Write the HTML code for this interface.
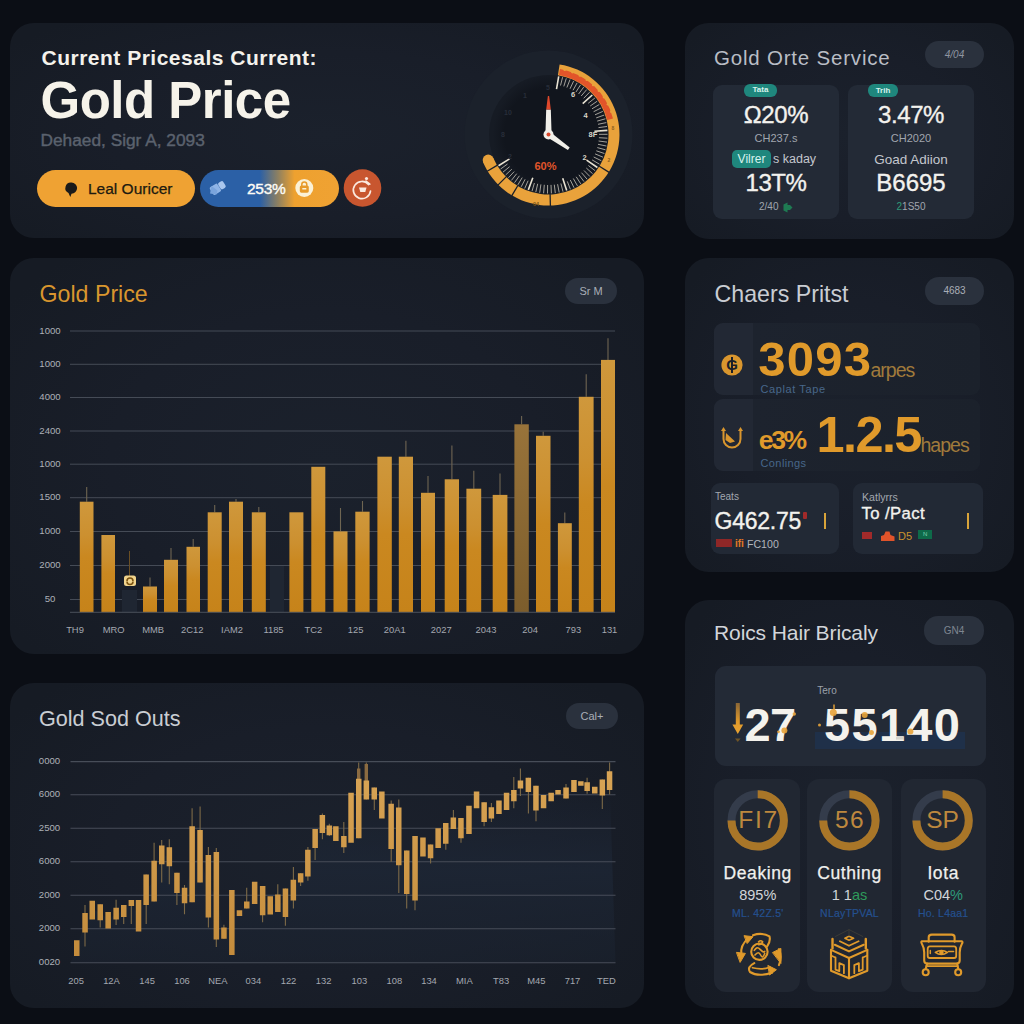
<!DOCTYPE html>
<html lang="en">
<head>
<meta charset="utf-8">
<title>Gold Price Dashboard</title>
<style>
*{box-sizing:border-box;margin:0;padding:0}
html,body{width:1024px;height:1024px;overflow:hidden}
body{background:#0b0e15;font-family:"Liberation Sans",Arial,sans-serif;color:#fff;position:relative}
.card{position:absolute;background:radial-gradient(ellipse 62% 70% at 50% 52%,#1b212c 0%,#191e29 55%,#161b24 100%);border-radius:24px}
.abs{position:absolute;white-space:nowrap;line-height:1}
.pill{position:absolute;background:#2a313d;border-radius:14px;color:#8f96a1;font-size:11px;text-align:center}
.panel{position:absolute;background:#232a36;border-radius:9px}
.yl{font-size:9.6px;color:#adb1b8}.xl{font-size:9.4px;color:#a4a8b0}
.rt{width:60px;text-align:center;font-size:24.5px;color:#bd883e}
.lb{text-align:center;font-size:17.5px;letter-spacing:0.6px;color:#f0f0ee;-webkit-text-stroke:0.25px #f0f0ee}
.pc{text-align:center;font-size:14.5px;color:#d2d5da}
.bl{text-align:center;font-size:10.5px;color:#24508f;letter-spacing:0.2px;-webkit-text-stroke:0.2px #24508f}
svg{position:absolute;left:0;top:0;overflow:visible}
</style>
</head>
<body>
<!-- CARD 1 : hero -->
<div class="card" id="c1" style="left:10px;top:23px;width:634px;height:215px"></div>
<svg id="gauge" width="1024" height="1024" viewBox="0 0 1024 1024">
<defs><radialGradient id="face" cx="0.53" cy="0.5" r="0.5"><stop offset="0" stop-color="#11151d"/><stop offset="0.8" stop-color="#11151d"/><stop offset="1" stop-color="#161b24"/></radialGradient></defs>
<circle cx="548.5" cy="134.5" r="84" fill="#1b212b"/>
<circle cx="548.5" cy="134.5" r="59.5" fill="url(#face)"/>
<path d="M559.6 64.4A71 71 0 1 1 483.1 162.2L493.3 157.9A60 60 0 1 0 557.9 75.2Z" fill="#e9a23b"/>
<circle cx="488.2" cy="160.1" r="5.5" fill="#e9a23b"/>
<path d="M560.0 69.0A66.5 66.5 0 0 1 613.0 118.4L607.2 119.9A60.5 60.5 0 0 0 559.0 74.9Z" fill="#e2552a"/>
<circle cx="564.7" cy="69.7" r="1.3" fill="#e9a23b"/>
<circle cx="572.4" cy="72.1" r="1.3" fill="#e9a23b"/>
<circle cx="579.9" cy="75.5" r="1.3" fill="#e9a23b"/>
<circle cx="586.8" cy="79.8" r="1.3" fill="#e9a23b"/>
<circle cx="593.2" cy="84.9" r="1.3" fill="#e9a23b"/>
<circle cx="598.9" cy="90.7" r="1.3" fill="#e9a23b"/>
<circle cx="603.9" cy="97.1" r="1.3" fill="#e9a23b"/>
<circle cx="608.0" cy="104.2" r="1.3" fill="#e9a23b"/>
<circle cx="611.3" cy="111.7" r="1.3" fill="#e9a23b"/>
<line x1="599.0" y1="166.0" x2="609.1" y2="172.4" stroke="#1a1f29" stroke-width="1.3"/>
<line x1="550.1" y1="194.0" x2="550.4" y2="206.0" stroke="#1a1f29" stroke-width="1.3"/>
<line x1="517.9" y1="185.5" x2="511.7" y2="195.8" stroke="#1a1f29" stroke-width="1.3"/>
<line x1="506.4" y1="176.6" x2="497.9" y2="185.1" stroke="#1a1f29" stroke-width="1.3"/>
<line x1="497.5" y1="165.1" x2="487.2" y2="171.3" stroke="#1a1f29" stroke-width="1.3"/>
<path d="M560.5 85.5L562.6 77.2M563.8 86.4L566.3 78.3M566.9 87.5L570.0 79.6M570.0 88.8L573.6 81.1M573.0 90.3L577.1 82.9M575.9 92.1L580.5 84.9M578.6 94.0L583.7 87.1M581.2 96.0L586.7 89.6M583.7 98.3L589.6 92.2M588.2 103.3L594.9 98.0M590.2 106.0L597.2 101.2M592.0 108.8L599.3 104.5M593.6 111.7L601.2 107.9M595.0 114.8L602.8 111.4M596.2 117.9L604.2 115.1M597.2 121.1L605.4 118.8M598.0 124.3L606.3 122.6M598.5 127.6L607.0 126.5M599.0 134.3L607.5 134.3M598.9 137.7L607.4 138.2M598.6 141.0L607.0 142.1M598.0 144.3L606.4 146.0M597.3 147.6L605.5 149.8M596.3 150.8L604.4 153.5M595.1 153.9L603.0 157.2M593.7 157.0L601.3 160.7M592.1 159.9L599.5 164.2M588.4 165.5L595.1 170.7M586.3 168.0L592.6 173.7M584.0 170.5L589.9 176.5M581.5 172.7L587.1 179.2M578.9 174.8L584.0 181.6M576.2 176.8L580.8 183.9M573.3 178.5L577.5 185.9M570.3 180.0L574.0 187.7M567.3 181.4L570.4 189.3M560.9 183.5L563.0 191.7M557.6 184.2L559.2 192.5M554.3 184.7L555.3 193.1M551.0 184.9L551.4 193.4M547.6 185.0L547.5 193.5M544.3 184.8L543.6 193.3M540.9 184.4L539.7 192.8M537.7 183.8L535.8 192.1M534.4 183.0L532.0 191.2M528.1 180.7L524.7 188.5M525.1 179.3L521.2 186.8M522.2 177.6L517.8 184.9M519.4 175.8L514.5 182.7M516.7 173.7L511.4 180.4M514.2 171.6L508.4 177.8M511.8 169.2L505.6 175.0M509.6 166.7L503.0 172.1M507.5 164.0L500.6 169.0" stroke="#b4b1a8" stroke-width="0.9" fill="none"/>
<path d="M556.5 89.2L558.7 76.4M582.7 103.7L592.3 95.0M594.4 131.3L607.4 130.4M586.6 160.2L597.4 167.5M562.7 178.2L566.7 190.6M532.8 177.7L528.3 189.9M509.5 158.9L498.5 165.8" stroke="#e8e2d2" stroke-width="1.6" fill="none"/>
<path d="M545.4 134.5L546.2 109.5L550.8 109.5L551.6 134.5Z" fill="#f1efe9"/>
<path d="M546.2 109.5L547.9 96.0L549.1 96.0L550.8 109.5Z" fill="#e0482b"/>
<path d="M546.8 137.0L567.9 149.9L569.7 147.5L550.2 132.0Z" fill="#f1efe9"/>
<circle cx="548.5" cy="134.5" r="5" fill="#f1efe9"/><circle cx="548.5" cy="134.5" r="2" fill="#d9472b"/>
<text x="545.5" y="170" fill="#e1552b" font-size="11" font-weight="bold" text-anchor="middle" font-family="Liberation Sans, Arial, sans-serif">60%</text>
<text x="573" y="97" fill="#d8d4c8" font-size="7.5" font-weight="bold" text-anchor="middle" font-family="Liberation Sans, Arial, sans-serif">6</text>
<text x="585.5" y="118" fill="#d8d4c8" font-size="7.5" font-weight="bold" text-anchor="middle" font-family="Liberation Sans, Arial, sans-serif">4</text>
<text x="593" y="137" fill="#d8d4c8" font-size="7.5" font-weight="bold" text-anchor="middle" font-family="Liberation Sans, Arial, sans-serif">8F</text>
<text x="584.5" y="160" fill="#d8d4c8" font-size="7.5" font-weight="bold" text-anchor="middle" font-family="Liberation Sans, Arial, sans-serif">2</text>
<text x="508" y="115" fill="#272d39" font-size="7" font-weight="bold" text-anchor="middle" font-family="Liberation Sans, Arial, sans-serif">10</text>
<text x="503" y="137" fill="#272d39" font-size="7" font-weight="bold" text-anchor="middle" font-family="Liberation Sans, Arial, sans-serif">8</text>
<text x="510" y="159" fill="#272d39" font-size="7" font-weight="bold" text-anchor="middle" font-family="Liberation Sans, Arial, sans-serif">2</text>
<text x="525" y="98" fill="#272d39" font-size="7" font-weight="bold" text-anchor="middle" font-family="Liberation Sans, Arial, sans-serif">1</text>
<text x="548" y="90" fill="#272d39" font-size="7" font-weight="bold" text-anchor="middle" font-family="Liberation Sans, Arial, sans-serif">5</text>
<text x="536" y="206" fill="#7a5418" font-size="5.5" font-weight="bold" text-anchor="middle" font-family="Liberation Sans, Arial, sans-serif">04</text>
<text x="613" y="130" fill="#8a6020" font-size="5" font-weight="bold" text-anchor="middle" font-family="Liberation Sans, Arial, sans-serif">8</text>
<text x="609" y="162" fill="#8a6020" font-size="5" font-weight="bold" text-anchor="middle" font-family="Liberation Sans, Arial, sans-serif">2</text>
</svg>
<div class="abs" id="h-sub" style="left:41.5px;top:46.5px;font-size:21px;font-weight:bold;color:#f4f2ec;letter-spacing:0.5px">Current Pricesals Current:</div>
<div class="abs" id="h-title" style="left:40.5px;top:74.5px;font-size:51px;font-weight:bold;color:#f6f3ea;letter-spacing:-0.5px">Gold Price</div>
<div class="abs" id="h-date" style="left:40.5px;top:131.5px;font-size:17.3px;color:#5b626e;-webkit-text-stroke:0.4px #5b626e">Dehaed, Sigr A, 2093</div>
<div class="abs" id="btn1" style="left:37px;top:170px;width:158px;height:37px;border-radius:19px;background:#efa233"></div>
<svg width="1024" height="1024" viewBox="0 0 1024 1024"><path d="M71.5 182.5a5.6 5.6 0 1 1 0 11.2l-1.2 3.3-1.8-3.9a5.6 5.6 0 0 1 3-10.6z" fill="#1a1a1a"/></svg>
<div class="abs" id="btn1t" style="left:88px;top:180.5px;font-size:15.5px;color:#201a10;-webkit-text-stroke:0.25px #201a10">Leal Ouricer</div>
<div class="abs" id="btn2" style="left:200px;top:170px;width:139px;height:37px;border-radius:19px;background:linear-gradient(90deg,#2b60a6 0%,#2b60a6 43%,#8d8061 56%,#eea12f 68%,#efa233 100%)"></div>
<svg width="1024" height="1024" viewBox="0 0 1024 1024">
<g transform="translate(217.5,188) rotate(-32)"><rect x="-7" y="-4.5" width="9" height="9" rx="1.5" fill="#8fb4e6"/><rect x="2.2" y="-3.8" width="6" height="7.6" rx="2" fill="#a9c6ee"/></g>
<path d="M211.5 186l6 4.5-1 4-6.5-1z" fill="#7aa4dc"/>
<circle cx="304.3" cy="188" r="9" fill="#fbf1d6"/>
<rect x="299.8" y="185.5" width="9" height="7.2" rx="1.6" fill="#e79a2a"/><path d="M301.8 186v-1.6a2.5 2.5 0 0 1 5 0V186" fill="none" stroke="#e79a2a" stroke-width="1.5"/><rect x="302.3" y="188" width="4" height="1.5" fill="#fbf1d6"/>
<circle cx="362.5" cy="188" r="18.8" fill="#c8562f"/>
<path d="M368.5 184.5a8.6 8.6 0 1 0 2 6.5" fill="none" stroke="#fbe9df" stroke-width="1.7" stroke-linecap="round"/>
<path d="M359 187.5h7.5l-1.2 4.5h-5z" fill="#fbe9df"/><circle cx="366.5" cy="178.5" r="1.6" fill="#fbe9df"/><path d="M366 181l3.8 3.2" stroke="#fbe9df" stroke-width="1.6" stroke-linecap="round"/>
</svg>
<div class="abs" id="btn2t" style="left:247px;top:180.5px;font-size:15.5px;color:#fdfbf5;letter-spacing:-0.3px;-webkit-text-stroke:0.4px #fdfbf5">253%</div>
<!-- CARD 2 : gold orte service -->
<div class="card" id="c2" style="left:685px;top:23px;width:329px;height:216px"></div>
<div class="abs" id="c2-title" style="left:714px;top:47.5px;font-size:20.5px;color:#b9bdc5;letter-spacing:0.8px">Gold Orte Service</div>
<div class="pill" style="left:925px;top:41px;width:59px;height:27px;line-height:27px;font-size:10px;font-style:italic">4/04</div>
<div class="panel" style="left:713px;top:85px;width:126px;height:134px"></div>
<div class="panel" style="left:848px;top:85px;width:126px;height:134px"></div>
<div class="abs" style="left:744px;top:84px;width:33px;height:12.5px;border-radius:6px;background:#1f877d;color:#d8f3ee;font-size:8px;line-height:12.5px;text-align:center;font-weight:bold">Tata</div>
<div class="abs" id="c2-v1" style="-webkit-text-stroke:0.35px #f3f2ee;letter-spacing:-0.4px;left:713px;width:126px;text-align:center;top:103px;font-size:24px;color:#f3f2ee">Ω20%</div>
<div class="abs" id="c2-s1" style="left:713px;width:126px;text-align:center;top:133px;font-size:11px;color:#a1a6ae">CH237.s</div>
<div class="abs" style="left:732px;top:149.5px;width:39px;height:18.5px;border-radius:5px;background:#1f877d;color:#d8f3ee;font-size:12px;line-height:18.5px;text-align:center">Vilrer</div>
<div class="abs" id="c2-k" style="left:773px;top:153px;font-size:12.5px;color:#c3c7ce">s kaday</div>
<div class="abs" id="c2-v2" style="-webkit-text-stroke:0.35px #f3f2ee;letter-spacing:-0.4px;left:713px;width:126px;text-align:center;top:171px;font-size:24px;color:#f3f2ee">13T%</div>
<div class="abs" id="c2-s2" style="left:759px;top:202px;font-size:10px;color:#a1a6ae">2/40</div>
<svg width="1024" height="1024" viewBox="0 0 1024 1024"><path d="M783.5 204.5l4-2v2.5h2.5l2.5 2.5-2.5 2.5h-2.5v2.5l-4-2z" fill="#1e7a52"/></svg>
<div class="abs" style="left:868px;top:83.5px;width:30px;height:13px;border-radius:6px;background:#1f877d;color:#d8f3ee;font-size:8px;line-height:13px;text-align:center;font-weight:bold">Trih</div>
<div class="abs" id="c2-v3" style="-webkit-text-stroke:0.35px #f3f2ee;letter-spacing:-0.4px;left:848px;width:126px;text-align:center;top:103px;font-size:24px;color:#f3f2ee">3.47%</div>
<div class="abs" id="c2-s3" style="left:848px;width:126px;text-align:center;top:133px;font-size:11px;color:#a1a6ae">CH2020</div>
<div class="abs" id="c2-g" style="left:848px;width:126px;text-align:center;top:153px;font-size:13.5px;color:#c3c7ce">Goad Adiion</div>
<div class="abs" id="c2-v4" style="-webkit-text-stroke:0.35px #f3f2ee;left:848px;width:126px;text-align:center;top:171px;font-size:24px;color:#f3f2ee">B6695</div>
<div class="abs" id="c2-s4" style="left:848px;width:126px;text-align:center;top:202px;font-size:10px;color:#a1a6ae"><span style="color:#2f9a78">2</span>1S50</div>
<!-- CARD 3 : bar chart -->
<div class="card" id="c3" style="left:10px;top:258px;width:634px;height:396px"></div>
<div class="abs" id="c3-title" style="left:39.5px;top:282.5px;font-size:23.2px;color:#d9962e">Gold Price</div>
<div class="pill" style="left:565px;top:278px;width:52px;height:26px;line-height:26px;font-size:11px;color:#a9aeb7">Sr M</div>
<svg id="barchart" width="1024" height="1024" viewBox="0 0 1024 1024">
<defs><linearGradient id="bg1" x1="0" y1="0" x2="0" y2="1"><stop offset="0" stop-color="#cf983c"/><stop offset="0.3" stop-color="#cc9030"/><stop offset="0.5" stop-color="#ca8820"/><stop offset="1" stop-color="#c6831a"/></linearGradient>
<linearGradient id="bg2" x1="0" y1="0" x2="0" y2="1"><stop offset="0" stop-color="#98733a"/><stop offset="1" stop-color="#7c5d2c"/></linearGradient></defs>
<line x1="70" y1="331" x2="615" y2="331" stroke="#454b56" stroke-width="1"/>
<line x1="70" y1="364.3" x2="615" y2="364.3" stroke="#454b56" stroke-width="1"/>
<line x1="70" y1="397.5" x2="615" y2="397.5" stroke="#454b56" stroke-width="1"/>
<line x1="70" y1="431" x2="615" y2="431" stroke="#454b56" stroke-width="1"/>
<line x1="70" y1="464.2" x2="615" y2="464.2" stroke="#454b56" stroke-width="1"/>
<line x1="70" y1="497.7" x2="615" y2="497.7" stroke="#454b56" stroke-width="1"/>
<line x1="70" y1="531.5" x2="615" y2="531.5" stroke="#454b56" stroke-width="1"/>
<line x1="70" y1="565.5" x2="615" y2="565.5" stroke="#454b56" stroke-width="1"/>
<line x1="70" y1="599.5" x2="615" y2="599.5" stroke="#454b56" stroke-width="1"/>
<rect x="122" y="590" width="15" height="22" fill="#1f2632"/>
<rect x="270" y="566" width="14" height="46" fill="#1f2632"/>
<line x1="86.7" y1="487" x2="86.7" y2="501.7" stroke="#6f6552" stroke-width="1.1"/>
<rect x="79.8" y="501.7" width="13.7" height="110.6" fill="url(#bg1)"/>
<rect x="101.4" y="535" width="13.6" height="77.3" fill="url(#bg1)"/>
<line x1="150.0" y1="577.6" x2="150.0" y2="586.5" stroke="#6f6552" stroke-width="1.1"/>
<rect x="143" y="586.5" width="14.0" height="25.8" fill="url(#bg1)"/>
<line x1="171.0" y1="548" x2="171.0" y2="559.8" stroke="#6f6552" stroke-width="1.1"/>
<rect x="164" y="559.8" width="14.0" height="52.5" fill="url(#bg1)"/>
<line x1="193.2" y1="539" x2="193.2" y2="546.8" stroke="#6f6552" stroke-width="1.1"/>
<rect x="186.5" y="546.8" width="13.5" height="65.5" fill="url(#bg1)"/>
<line x1="214.7" y1="505" x2="214.7" y2="512.3" stroke="#6f6552" stroke-width="1.1"/>
<rect x="207.7" y="512.3" width="14.0" height="100.0" fill="url(#bg1)"/>
<line x1="236.0" y1="499" x2="236.0" y2="501.7" stroke="#6f6552" stroke-width="1.1"/>
<rect x="229" y="501.7" width="14.0" height="110.6" fill="url(#bg1)"/>
<line x1="258.8" y1="507" x2="258.8" y2="512.3" stroke="#6f6552" stroke-width="1.1"/>
<rect x="251.8" y="512.3" width="14.0" height="100.0" fill="url(#bg1)"/>
<rect x="289.4" y="512.3" width="14.0" height="100.0" fill="url(#bg1)"/>
<rect x="311.3" y="466.8" width="14.0" height="145.5" fill="url(#bg1)"/>
<line x1="340.5" y1="508" x2="340.5" y2="531.4" stroke="#6f6552" stroke-width="1.1"/>
<rect x="333.5" y="531.4" width="14.0" height="80.9" fill="url(#bg1)"/>
<line x1="362.5" y1="501" x2="362.5" y2="511.7" stroke="#6f6552" stroke-width="1.1"/>
<rect x="355.3" y="511.7" width="14.3" height="100.6" fill="url(#bg1)"/>
<rect x="377.4" y="456.7" width="14.4" height="155.6" fill="url(#bg1)"/>
<line x1="405.9" y1="440.7" x2="405.9" y2="456.7" stroke="#6f6552" stroke-width="1.1"/>
<rect x="398.8" y="456.7" width="14.2" height="155.6" fill="url(#bg1)"/>
<line x1="428.0" y1="476" x2="428.0" y2="492.8" stroke="#6f6552" stroke-width="1.1"/>
<rect x="421" y="492.8" width="14.0" height="119.5" fill="url(#bg1)"/>
<line x1="451.9" y1="445.6" x2="451.9" y2="479.3" stroke="#6f6552" stroke-width="1.1"/>
<rect x="444.7" y="479.3" width="14.3" height="133.0" fill="url(#bg1)"/>
<line x1="473.8" y1="470.7" x2="473.8" y2="488.7" stroke="#6f6552" stroke-width="1.1"/>
<rect x="466.4" y="488.7" width="14.8" height="123.6" fill="url(#bg1)"/>
<line x1="500.0" y1="473.5" x2="500.0" y2="494.9" stroke="#6f6552" stroke-width="1.1"/>
<rect x="492.7" y="494.9" width="14.7" height="117.4" fill="url(#bg1)"/>
<line x1="521.6" y1="416" x2="521.6" y2="424.3" stroke="#6f6552" stroke-width="1.1"/>
<rect x="514.4" y="424.3" width="14.4" height="188.0" fill="url(#bg2)"/>
<line x1="543.2" y1="431.7" x2="543.2" y2="435.8" stroke="#6f6552" stroke-width="1.1"/>
<rect x="536" y="435.8" width="14.5" height="176.5" fill="url(#bg1)"/>
<line x1="564.8" y1="512.5" x2="564.8" y2="523.2" stroke="#6f6552" stroke-width="1.1"/>
<rect x="557.9" y="523.2" width="13.9" height="89.1" fill="url(#bg1)"/>
<line x1="586.2" y1="374.3" x2="586.2" y2="396.8" stroke="#6f6552" stroke-width="1.1"/>
<rect x="578.8" y="396.8" width="14.8" height="215.5" fill="url(#bg1)"/>
<line x1="608.0" y1="338.2" x2="608.0" y2="359.9" stroke="#6f6552" stroke-width="1.1"/>
<rect x="601" y="359.9" width="14.0" height="252.4" fill="url(#bg1)"/>
<line x1="70" y1="612.3" x2="615" y2="612.3" stroke="#4a505b" stroke-width="1"/>
<line x1="129.5" y1="551" x2="129.5" y2="576" stroke="#6a4f24" stroke-width="1"/>
<rect x="124" y="575.5" width="12" height="10.5" rx="2.5" fill="#f0d38c"/><path d="M127 581a3 3 0 0 1 6 0M133 581.5a3 3 0 0 1-6 0" stroke="#7a5210" stroke-width="1.6" fill="none"/>
</svg>
<div class="abs yl" style="left:39px;top:325.5px;width:22px;text-align:center">1000</div>
<div class="abs yl" style="left:39px;top:358.8px;width:22px;text-align:center">1000</div>
<div class="abs yl" style="left:39px;top:392.0px;width:22px;text-align:center">4000</div>
<div class="abs yl" style="left:39px;top:425.5px;width:22px;text-align:center">2400</div>
<div class="abs yl" style="left:39px;top:458.7px;width:22px;text-align:center">1000</div>
<div class="abs yl" style="left:39px;top:492.2px;width:22px;text-align:center">1500</div>
<div class="abs yl" style="left:39px;top:526.0px;width:22px;text-align:center">1000</div>
<div class="abs yl" style="left:39px;top:560.0px;width:22px;text-align:center">2000</div>
<div class="abs yl" style="left:39px;top:594.0px;width:22px;text-align:center">50</div>
<div class="abs xl" style="left:55px;top:625px;width:40px;text-align:center">TH9</div>
<div class="abs xl" style="left:93.7px;top:625px;width:40px;text-align:center">MRO</div>
<div class="abs xl" style="left:133.2px;top:625px;width:40px;text-align:center">MMB</div>
<div class="abs xl" style="left:172.3px;top:625px;width:40px;text-align:center">2C12</div>
<div class="abs xl" style="left:212px;top:625px;width:40px;text-align:center">IAM2</div>
<div class="abs xl" style="left:253.5px;top:625px;width:40px;text-align:center">1185</div>
<div class="abs xl" style="left:293.4px;top:625px;width:40px;text-align:center">TC2</div>
<div class="abs xl" style="left:335.7px;top:625px;width:40px;text-align:center">125</div>
<div class="abs xl" style="left:374.8px;top:625px;width:40px;text-align:center">20A1</div>
<div class="abs xl" style="left:421.2px;top:625px;width:40px;text-align:center">2027</div>
<div class="abs xl" style="left:466px;top:625px;width:40px;text-align:center">2043</div>
<div class="abs xl" style="left:510.20000000000005px;top:625px;width:40px;text-align:center">204</div>
<div class="abs xl" style="left:553.3px;top:625px;width:40px;text-align:center">793</div>
<div class="abs xl" style="left:589.5px;top:625px;width:40px;text-align:center">131</div>
<!-- CARD 4 : chaers pritst -->
<div class="card" id="c4" style="left:685px;top:258px;width:329px;height:314px"></div>
<div class="abs" id="c4-title" style="left:714.5px;top:282.5px;font-size:23.2px;color:#c9cdd3">Chaers Pritst</div>
<div class="pill" style="left:925px;top:277px;width:59px;height:28px;line-height:28px;font-size:10px;color:#a9aeb7">4683</div>
<div class="panel" style="left:714px;top:323px;width:266px;height:72px;background:linear-gradient(90deg,#222834 0,#222834 39px,#1d232e 39px,#1b212b 100%)"></div>
<div class="panel" style="left:714px;top:399px;width:266px;height:72px;background:linear-gradient(90deg,#222834 0,#222834 39px,#1d232e 39px,#1b212b 100%)"></div>
<svg width="1024" height="1024" viewBox="0 0 1024 1024">
<circle cx="732" cy="365" r="10.6" fill="#d9962e"/><text x="732" y="370.3" text-anchor="middle" font-size="15" font-weight="bold" fill="#1a1f29" font-family="Liberation Sans, Arial, sans-serif">G</text><rect x="731" y="357" width="2" height="16" fill="#1a1f29"/>
<path d="M723.5 430v9a8.5 8.5 0 0 0 17 0v-9" fill="none" stroke="#d9962e" stroke-width="2"/>
<path d="M721 431l2.5-4 2.5 4zM738 431l2.500-4 2.500 4z" fill="#d9962e"/>
<path d="M726 433l9 8.500-5 1.500-4.500-3z" fill="#d9962e"/>
</svg>
<div class="abs" id="c4-n1" style="left:758.3px;top:335.3px;font-size:49px;font-weight:bold;color:#e09a2b;letter-spacing:1.2px">3093</div>
<div class="abs" id="c4-u1" style="left:870.5px;top:360.5px;font-size:19.5px;color:#a07a3b;letter-spacing:-1px">arpes</div>
<div class="abs" id="c4-l1" style="left:760.5px;top:383.5px;font-size:11px;color:#48678a;letter-spacing:0.6px">Caplat Tape</div>
<div class="abs" id="c4-n2" style="left:758.8px;top:427.3px;font-size:26.5px;font-weight:bold;color:#e09a2b;letter-spacing:-2.4px">e3%</div>
<div class="abs" id="c4-n3" style="left:816.5px;top:410px;font-size:50.5px;font-weight:bold;color:#e09a2b;letter-spacing:-1.6px">1.2.5</div>
<div class="abs" id="c4-u2" style="left:920.5px;top:436px;font-size:19.5px;color:#a07a3b;letter-spacing:-1px">hapes</div>
<div class="abs" id="c4-l2" style="left:760.5px;top:458px;font-size:11px;color:#48678a;letter-spacing:0.4px">Conlings</div>
<div class="panel" style="left:711px;top:483px;width:128px;height:71px;background:#222935"></div>
<div class="panel" style="left:852.5px;top:483px;width:130.500px;height:71px;background:#222935"></div>
<div class="abs" style="left:715px;top:492px;font-size:10px;color:#a3a8b0">Teats</div>
<div class="abs" id="c4-v1" style="left:714.500px;top:510.2px;font-size:23px;color:#f3f2ee;letter-spacing:-0.250px;-webkit-text-stroke:0.35px #f3f2ee">G462.75</div>
<div class="abs" style="left:802.5px;top:511.5px;width:4px;height:7px;border-radius:1px;background:#a12a2a"></div>
<div class="abs" style="left:824px;top:512.500px;width:2px;height:16.500px;background:#d9a43a"></div>
<div class="abs" style="left:716px;top:539px;width:16px;height:8px;background:#8f2727"></div>
<div class="abs" style="left:735px;top:539px;font-size:10px;font-weight:bold;color:#e07a25">ifi</div>
<div class="abs" id="c4-fc" style="left:747px;top:539px;font-size:10.6px;color:#b1b6bd">FC100</div>
<div class="abs" style="left:862px;top:492px;font-size:10.6px;color:#a3a8b0">Katlyrrs</div>
<div class="abs" id="c4-v2" style="left:861.500px;top:505.800px;font-size:16.700px;color:#f3f2ee;letter-spacing:0.4px;-webkit-text-stroke:0.350px #f3f2ee">To /Pact</div>
<div class="abs" style="left:967.200px;top:512.500px;width:2px;height:16.500px;background:#d9a43a"></div>
<div class="abs" style="left:862px;top:532px;width:10px;height:6.500px;background:#a12a2a"></div>
<svg width="1024" height="1024" viewBox="0 0 1024 1024"><path d="M881 541v-5l3-1 1.500-3.500h4l1 3.500 4 1.500v4.500z" fill="#e0532a"/></svg>
<div class="abs" style="left:898px;top:530.500px;font-size:11px;color:#c9922e">D5</div>
<div class="abs" style="left:918px;top:530px;width:14px;height:8.500px;background:#0e6a49"></div>
<div class="abs" style="left:923px;top:531px;font-size:6px;color:#7fd0b0">N</div>
<!-- CARD 5 : candles -->
<div class="card" id="c5" style="left:10px;top:683px;width:634px;height:325px"></div>
<div class="abs" id="c5-title" style="left:39px;top:708px;font-size:21.6px;color:#c9cdd3">Gold Sod Outs</div>
<div class="pill" style="left:566px;top:703px;width:52px;height:26px;line-height:26px;font-size:11px;color:#a9aeb7">Cal+</div>
<svg id="candles" width="1024" height="1024" viewBox="0 0 1024 1024">
<defs><linearGradient id="cg" x1="0" y1="0" x2="0" y2="1"><stop offset="0" stop-color="#d8a455"/><stop offset="1" stop-color="#c48c3c"/></linearGradient>
<linearGradient id="ca" x1="0" y1="0" x2="0" y2="1"><stop offset="0" stop-color="#1d2635" stop-opacity="0"/><stop offset="0.5" stop-color="#1d2635" stop-opacity="0.8"/><stop offset="1" stop-color="#1b2330" stop-opacity="0.5"/></linearGradient></defs>
<polygon points="70.5,962.7 76.7,948.2 85.0,922.8 92.3,910.2 100.2,912.2 108.2,920.2 116.1,913.6 123.7,911.0 131.3,903.1 138.6,915.9 146.2,889.8 154.1,881.1 161.7,854.9 169.3,856.8 176.9,882.9 184.5,895.5 192.1,864.2 200.1,856.2 208.4,886.1 216.3,895.8 223.9,933.1 231.9,922.6 239.5,913.1 246.7,905.0 254.7,892.9 262.6,900.6 270.2,905.5 277.8,903.2 285.4,902.7 293.4,890.1 300.6,877.8 307.9,863.2 315.1,838.5 322.4,824.1 329.3,830.3 335.9,833.6 343.8,841.6 351.1,817.7 358.7,808.6 366.3,790.1 374.3,793.5 381.9,805.1 391.2,826.4 398.8,836.4 406.7,872.1 415.0,868.2 423.0,847.1 430.6,851.4 438.2,838.1 445.8,833.4 453.4,823.2 461.0,828.1 468.9,820.0 476.5,799.9 484.1,812.2 491.4,812.9 499.0,807.4 506.6,801.3 513.8,795.6 520.4,784.5 528.4,784.9 536.0,798.2 543.6,801.7 551.2,797.0 558.1,792.1 566.0,793.0 574.0,785.9 580.9,783.5 587.1,786.6 594.7,790.1 602.3,787.5 609.6,780.6 615.5,962.7" fill="url(#ca)"/>
<line x1="70.500" y1="761.6" x2="615.500" y2="761.6" stroke="#474d58" stroke-width="1.1"/>
<line x1="70.500" y1="794.7" x2="615.500" y2="794.7" stroke="#474d58" stroke-width="1.1"/>
<line x1="70.500" y1="828.3" x2="615.500" y2="828.3" stroke="#474d58" stroke-width="1.1"/>
<line x1="70.500" y1="861.8" x2="615.500" y2="861.8" stroke="#474d58" stroke-width="1.1"/>
<line x1="70.500" y1="895.3" x2="615.500" y2="895.3" stroke="#474d58" stroke-width="1.1"/>
<line x1="70.500" y1="928.8" x2="615.500" y2="928.8" stroke="#474d58" stroke-width="1.1"/>
<line x1="70.500" y1="962.7" x2="615.500" y2="962.7" stroke="#474d58" stroke-width="1.1"/>
<path d="M85.0 905.0V946.4M100.2 904.3V927.4M116.1 899.8V925.0M123.7 905.0V924.0M131.3 900.1V924.0M146.2 874.6V924.0M154.1 842.8V901.5M161.7 840.0V882.5M169.3 839.3V884.2M176.9 872.8V905.0M184.5 884.9V914.3M192.1 808.2V902.2M200.1 806.5V882.5M208.4 846.9V927.4M216.3 848.0V947.1M223.9 924.7V938.8M246.7 887.7V908.4M262.6 886.0V922.2M277.8 884.2V911.9M285.4 888.4V925.7M293.4 867.0V908.4M300.6 873.2V886.0M307.9 846.9V880.8M315.1 828.9V860.0M322.4 813.4V839.3M329.3 823.8V835.9M343.8 822.0V853.1M358.7 762.6V838.3M366.3 762.6V799.6M374.3 787.5V809.9M391.2 800.6V861.8M398.8 799.6V892.9M406.7 850.4V908.4M415.0 835.9V910.2M430.6 844.5V863.5M445.8 823.1V849.7M453.4 809.9V828.9M461.0 817.9V842.8M484.1 802.3V826.2M491.4 803.0V822.0M513.8 777.1V808.2M520.4 768.5V796.1M528.4 777.8V813.4M536.0 785.8V821.3M566.0 784.0V798.5M587.1 777.8V793.7M602.3 779.5V808.9M609.6 762.6V794.4" stroke="#7d6a48" stroke-width="1.1" fill="none"/>
<path d="M358.7 768.4V779M366.3 764V781" stroke="#8b6b41" stroke-width="3.4" fill="none"/>
<path d="M74.0 940.2h5.5V956.1h-5.5ZM82.3 912.9h5.5V932.6h-5.5ZM89.5 900.8h5.5V919.5h-5.5ZM97.5 904.3h5.5V920.2h-5.5ZM105.4 911.9h5.5V928.5h-5.5ZM113.4 907.7h5.5V919.5h-5.5ZM121.0 905.0h5.5V917.1h-5.5ZM128.6 900.1h5.5V906.0h-5.5ZM135.8 900.1h5.5V931.6h-5.5ZM143.4 874.6h5.5V905.0h-5.5ZM151.4 860.7h5.5V901.5h-5.5ZM159.0 845.5h5.5V864.2h-5.5ZM166.6 847.3h5.5V866.3h-5.5ZM174.2 872.8h5.5V892.9h-5.5ZM181.8 887.7h5.5V903.2h-5.5ZM189.4 826.2h5.5V902.2h-5.5ZM197.3 830.0h5.5V882.5h-5.5ZM205.6 854.9h5.5V917.4h-5.5ZM213.6 852.1h5.5V939.5h-5.5ZM221.2 927.4h5.5V938.8h-5.5ZM229.1 890.1h5.5V955.1h-5.5ZM236.7 910.2h5.5V916.0h-5.5ZM244.0 901.5h5.5V908.4h-5.5ZM251.9 881.8h5.5V903.9h-5.5ZM259.9 886.0h5.5V915.3h-5.5ZM267.5 896.3h5.5V914.6h-5.5ZM275.1 894.6h5.5V911.9h-5.5ZM282.7 888.4h5.5V917.1h-5.5ZM290.6 879.7h5.5V900.5h-5.5ZM297.9 873.2h5.5V882.5h-5.5ZM305.1 849.7h5.5V876.6h-5.5ZM312.4 828.9h5.5V848.0h-5.5ZM319.6 815.1h5.5V833.1h-5.5ZM326.6 825.5h5.5V835.2h-5.5ZM333.1 826.2h5.5V841.0h-5.5ZM341.1 835.9h5.5V847.3h-5.5ZM348.3 792.7h5.5V842.8h-5.5ZM356.0 778.8h5.5V838.3h-5.5ZM363.6 780.6h5.5V799.6h-5.5ZM371.5 787.5h5.5V799.6h-5.5ZM379.1 791.6h5.5V818.6h-5.5ZM388.4 803.7h5.5V849.0h-5.5ZM396.0 807.5h5.5V865.2h-5.5ZM404.0 850.4h5.5V893.9h-5.5ZM412.3 835.9h5.5V900.5h-5.5ZM420.2 837.6h5.5V856.6h-5.5ZM427.8 844.5h5.5V858.3h-5.5ZM435.4 828.3h5.5V848.0h-5.5ZM443.0 823.1h5.5V843.8h-5.5ZM450.6 817.5h5.5V828.9h-5.5ZM458.2 817.9h5.5V838.3h-5.5ZM466.2 805.8h5.5V834.1h-5.5ZM473.8 791.6h5.5V808.2h-5.5ZM481.4 802.3h5.5V822.0h-5.5ZM488.6 807.2h5.5V818.6h-5.5ZM496.2 800.6h5.5V814.1h-5.5ZM503.8 792.7h5.5V809.9h-5.5ZM511.1 789.9h5.5V801.3h-5.5ZM517.7 780.6h5.5V788.5h-5.5ZM525.6 777.8h5.5V792.0h-5.5ZM533.2 785.8h5.5V810.6h-5.5ZM540.8 795.1h5.5V808.2h-5.5ZM548.4 792.7h5.5V801.3h-5.5ZM555.3 789.9h5.5V794.4h-5.5ZM563.3 787.5h5.5V798.5h-5.5ZM571.2 779.9h5.5V792.0h-5.5ZM578.1 781.3h5.5V785.8h-5.5ZM584.4 782.3h5.5V790.9h-5.5ZM592.0 786.8h5.5V793.4h-5.5ZM599.6 779.5h5.5V795.4h-5.5ZM606.8 771.2h5.5V789.9h-5.5Z" fill="url(#cg)"/>
</svg>
<div class="abs yl" style="left:38px;top:756.1px;width:23px;text-align:center">0000</div>
<div class="abs yl" style="left:38px;top:789.2px;width:23px;text-align:center">6000</div>
<div class="abs yl" style="left:38px;top:822.8px;width:23px;text-align:center">2500</div>
<div class="abs yl" style="left:38px;top:856.3px;width:23px;text-align:center">6000</div>
<div class="abs yl" style="left:38px;top:889.8px;width:23px;text-align:center">2000</div>
<div class="abs yl" style="left:38px;top:923.3px;width:23px;text-align:center">2000</div>
<div class="abs yl" style="left:38px;top:957.2px;width:23px;text-align:center">0020</div>
<div class="abs xl" style="left:56.2px;top:976px;width:40px;text-align:center">205</div>
<div class="abs xl" style="left:91.5px;top:976px;width:40px;text-align:center">12A</div>
<div class="abs xl" style="left:127.2px;top:976px;width:40px;text-align:center">145</div>
<div class="abs xl" style="left:162.0px;top:976px;width:40px;text-align:center">106</div>
<div class="abs xl" style="left:197.8px;top:976px;width:40px;text-align:center">NEA</div>
<div class="abs xl" style="left:233.3px;top:976px;width:40px;text-align:center">034</div>
<div class="abs xl" style="left:268.5px;top:976px;width:40px;text-align:center">122</div>
<div class="abs xl" style="left:303.6px;top:976px;width:40px;text-align:center">132</div>
<div class="abs xl" style="left:339.3px;top:976px;width:40px;text-align:center">103</div>
<div class="abs xl" style="left:374.3px;top:976px;width:40px;text-align:center">108</div>
<div class="abs xl" style="left:409.0px;top:976px;width:40px;text-align:center">134</div>
<div class="abs xl" style="left:444.4px;top:976px;width:40px;text-align:center">MIA</div>
<div class="abs xl" style="left:481.2px;top:976px;width:40px;text-align:center">T83</div>
<div class="abs xl" style="left:516.3px;top:976px;width:40px;text-align:center">M45</div>
<div class="abs xl" style="left:552.5px;top:976px;width:40px;text-align:center">717</div>
<div class="abs xl" style="left:586.3px;top:976px;width:40px;text-align:center">TED</div>
<!-- CARD 6 : roics -->
<div class="card" id="c6" style="left:685px;top:600px;width:329px;height:408px"></div>
<div class="abs" id="c6-title" style="left:714px;top:622.3px;font-size:21px;letter-spacing:-0.1px;color:#d2d5da">Roics Hair Bricaly</div>
<div class="pill" style="left:924px;top:616px;width:60px;height:29px;line-height:29px;font-size:10px;color:#7f8691">GN4</div>
<div class="panel" style="left:714.500px;top:665.500px;width:271px;height:100.500px;border-radius:11px"></div>
<div class="abs" style="left:807px;width:40px;text-align:center;top:685.5px;font-size:10px;color:#9ba1aa">Tero</div>
<div class="abs" style="left:815px;top:731.5px;width:150px;height:17px;background:#1f3049"></div>
<div class="abs" id="c6-n1" style="left:744.600px;top:701.400px;font-size:47px;font-weight:bold;color:#f4f2ec;letter-spacing:-0.8px">27</div>
<div class="abs" id="c6-n2" style="left:824px;top:701.400px;font-size:47px;font-weight:bold;color:#f4f2ec;letter-spacing:1.300px">55140</div>
<svg width="1024" height="1024" viewBox="0 0 1024 1024">
<defs><linearGradient id="arr" x1="0" y1="0" x2="0" y2="1"><stop offset="0" stop-color="#8a6636"/><stop offset="0.6" stop-color="#e09a2b"/><stop offset="1" stop-color="#e8a333"/></linearGradient></defs>
<path d="M735.800 703h4v21.500h3.400l-5.400 9.500-5.400-9.500h3.400z" fill="url(#arr)"/><path d="M735 738.500h5.600l-2.800 3.500z" fill="#6f5527"/>
<g fill="#e8a43a" opacity="0.9"><circle cx="794.300" cy="714" r="1.700"/><circle cx="784.400" cy="730.400" r="3"/><circle cx="778.500" cy="731.800" r="1.400"/>
<circle cx="819.500" cy="725.100" r="1.500"/><circle cx="833.300" cy="712.400" r="3.500"/><rect x="833.200" y="704.500" width="1.600" height="7"/>
<circle cx="864.700" cy="714.900" r="3"/><circle cx="871.400" cy="732.500" r="2.500"/><circle cx="910.400" cy="731.600" r="3"/></g>
<rect x="896" y="737" width="8" height="2.600" fill="#c9c6bd" opacity="0.7"/>
</svg>
<div class="panel" style="left:714px;top:779px;width:85.500px;height:213px;border-radius:12px;background:#212732"></div>
<div class="panel" style="left:807px;top:779px;width:85px;height:213px;border-radius:12px;background:#212732"></div>
<div class="panel" style="left:900.700px;top:779px;width:85px;height:213px;border-radius:12px;background:#212732"></div>
<svg width="1024" height="1024" viewBox="0 0 1024 1024">
<circle cx="757.7" cy="820.4" r="26.2" fill="none" stroke="#343c4b" stroke-width="8"/><path d="M757.7 794.1999999999999A26.2 26.2 0 1 1 731.5 820.4" fill="none" stroke="#a97628" stroke-width="8"/><circle cx="849.4" cy="820.4" r="26.2" fill="none" stroke="#343c4b" stroke-width="8"/><path d="M849.4 794.1999999999999A26.2 26.2 0 1 1 823.1999999999999 820.4" fill="none" stroke="#a97628" stroke-width="8"/><circle cx="942.6" cy="820.4" r="26.2" fill="none" stroke="#343c4b" stroke-width="8"/><path d="M942.6 794.1999999999999A26.2 26.2 0 1 1 916.4 820.4" fill="none" stroke="#a97628" stroke-width="8"/>
<g fill="none" stroke="#e09a2b" stroke-width="2.1" stroke-linecap="round" stroke-linejoin="round">
<!-- icon1 -->
<path d="M741.3 955.0Q739.8 945.3 748.4 938.2"/><path d="M744.4 935.7 L753.0 936.7 L747.4 943.3Z" fill="#e09a2b" stroke-width="1"/>
<path d="M736.8 952.4 L745.4 953.4 L740.3 962.1Z" fill="#e09a2b" stroke-width="1"/>
<path d="M753.0 935.2Q761.9 932.1 769.5 936.4Q770.8 941.5 767.0 946.6"/>
<path d="M772.8 952.4 L780.9 948.4 L780.9 963.1Z" fill="#e09a2b" stroke-width="1"/><path d="M778.9 949.1Q782.5 956.7 778.9 965.1"/>
<circle cx="759.4" cy="951.7" r="8.2"/>
<path d="M754.3 950.4Q756.8 945.8 760.1 949.4T764.7 951.4M755.0 955.0Q758.6 950.4 760.6 955.0T764.7 953.4M758.6 941.8Q760.6 939.7 762.7 941.8Q761.6 944.8 758.6 944.8" stroke-width="1.600"/>
<path d="M754.3 963.1Q746.7 966.9 750.0 972.0Q758.1 977.1 772.1 972.7"/><path d="M752.5 967.7Q761.9 970.2 769.8 967.2" stroke-width="1.700"/>
<path d="M768.2 965.6 L776.4 969.7 L769.8 974.8Z" fill="#e09a2b" stroke-width="1"/>
<!-- icon2 -->
<path d="M831.0 949.9 L831.0 970.7 L849.0 978.3 L867.3 970.7 L867.3 949.9"/>
<path d="M831.0 949.9 L849.0 958.0 L867.3 949.9"/><path d="M849.0 958.0V978.3"/>
<path d="M834.8 944.8 L849.0 951.4 L863.7 944.8"/><path d="M839.9 941.3 L849.0 945.8 L858.6 941.3" stroke-width="1.800"/>
<path d="M844.9 938.2 L849.0 940.2 L853.6 938.2 L849.0 936.2Z" stroke-width="1.600"/>
<path d="M835.5 957.5 L835.5 969.7 L839.3 971.2 L839.3 963.1 L843.9 965.1 L843.9 973.2" stroke-width="1.800"/>
<path d="M862.7 957.5 L862.7 969.7 L858.9 971.2 L858.9 963.1 L854.3 965.1 L854.3 973.2" stroke-width="1.800"/>
<path d="M831.0 955.5 L834.8 957.2M867.3 955.5L863.5 957.2" stroke-width="1.600"/>
<path d="M832.5 939.0V948.4M865.8 939.0V948.4" stroke-width="2.400"/>
<path d="M835.5 936.4 L849.0 929.6 L862.7 936.4M849.0 929.6V935.7" stroke="#3a3a36" stroke-width="1"/>
<!-- icon3 -->
<path d="M928.7 941.8V937.2Q928.7 934.6 931.8 934.6H951.6Q954.6 934.6 954.6 937.2V941.8"/>
<path d="M921.9 941.3H961.7Q963.3 941.8 961.7 944.3Q959.7 947.9 959.7 952.4V960.6Q959.7 963.6 956.7 963.6H927.2Q924.2 963.6 924.2 960.6V952.4Q924.2 947.9 922.1 944.3Q920.6 941.8 921.9 941.3Z"/>
<path d="M929.8 946.3H954.1Q956.2 946.3 956.2 948.9V956.0Q956.2 958.0 954.1 958.0H929.8Q927.7 958.0 927.7 956.0V948.9Q927.7 946.3 929.8 946.3Z" stroke-width="1.800"/>
<path d="M935.3 952.4Q941.4 948.4 947.5 952.4Q941.4 956.5 935.3 952.4Z" stroke-width="1.500"/><circle cx="941.4" cy="952.4" r="1.200" fill="#e09a2b"/>
<path d="M948.5 951.4H953.6M930.3 953.4V950.4" stroke-width="1.500"/>
<path d="M927.2 963.6L925.7 968.7M957.2 963.6L958.2 968.7"/><path d="M926.2 966.1H957.7" stroke-width="1.700"/>
<circle cx="925.7" cy="972.2" r="3"/><circle cx="958.2" cy="972.2" r="3"/>
</g>
</svg>
<div class="abs rt" style="left:728.500px;top:808px;letter-spacing:1.7px">FI7</div>
<div class="abs rt" style="left:820.100px;top:808px;letter-spacing:1.5px">56</div>
<div class="abs rt" style="left:912.600px;top:808px">SP</div>
<div class="abs lb" style="left:714px;width:87.500px;top:865px">Deaking</div>
<div class="abs lb" style="left:807px;width:85px;top:865px">Cuthing</div>
<div class="abs lb" style="left:900.700px;width:85px;top:865px">Iota</div>
<div class="abs pc" style="left:714px;width:87.500px;top:888px">895%</div>
<div class="abs pc" style="left:807px;width:85px;top:888px">1 1<span style="color:#2e9a5a">as</span></div>
<div class="abs pc" style="left:900.700px;width:85px;top:888px">C04<span style="color:#2e9a7a">%</span></div>
<div class="abs bl" style="left:714px;width:87.500px;top:908px">ML. 42Z.5'</div>
<div class="abs bl" style="left:807px;width:85px;top:908px">NLayTPVAL</div>
<div class="abs bl" style="left:900.700px;width:85px;top:908px">Ho. L4aa1</div>
</body>
</html>
